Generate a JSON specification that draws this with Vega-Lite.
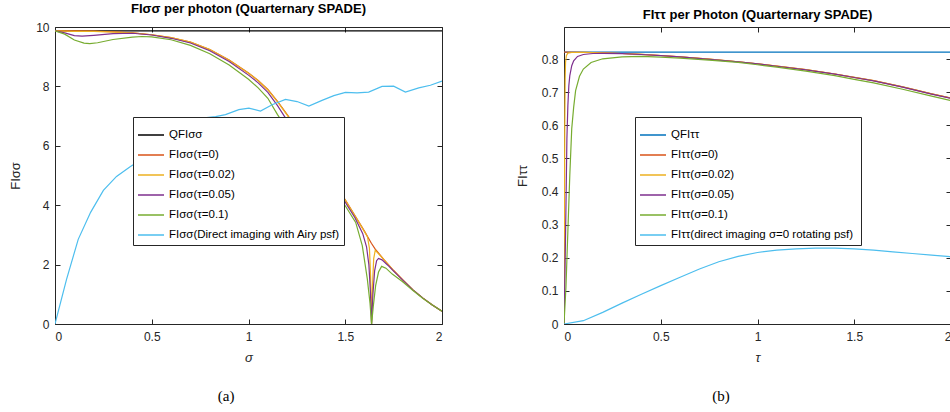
{
  "$schema": "https://vega.github.io/schema/vega-lite/v6.json",
  "background": "white",
  "padding": {"left": 9, "top": 2, "right": 0, "bottom": 0},
  "spacing": 72,
  "config": {
    "view": {"stroke": "#262626", "strokeWidth": 1},
    "font": "Liberation Sans",
    "axis": {"grid": false, "domain": false, "labelFont": "Liberation Sans", "labelFontSize": 12, "labelColor": "#262626", "tickColor": "#262626", "tickSize": -5, "labelPadding": 11, "titleFont": "Liberation Sans", "titleFontSize": 13, "titleFontWeight": "normal", "titleColor": "#262626", "format": "~r"},
    "axisX": {"labelPadding": 12},
    "title": {"font": "Liberation Sans", "fontSize": 13, "fontWeight": "bold", "color": "#000000", "offset": 5},
    "legend": {"orient": "none", "strokeColor": "#262626", "fillColor": "white", "padding": 4, "labelFont": "Liberation Sans", "labelFontSize": 11.5, "labelColor": "#000000", "labelLimit": 300, "symbolType": "stroke", "symbolSize": 680, "symbolStrokeWidth": 1.5, "rowPadding": 0, "title": null}
  },
  "datasets": {
    "left": [
      {"s": "QFIσσ", "x": 0, "y": 9.87}, {"s": "QFIσσ", "x": 2, "y": 9.87},
      {"s": "FIσσ(τ=0)", "x": 0, "y": 9.87}, {"s": "FIσσ(τ=0)", "x": 0.1, "y": 9.87}, {"s": "FIσσ(τ=0)", "x": 0.2, "y": 9.86}, {"s": "FIσσ(τ=0)", "x": 0.3, "y": 9.84}, {"s": "FIσσ(τ=0)", "x": 0.4, "y": 9.8}, {"s": "FIσσ(τ=0)", "x": 0.5, "y": 9.74}, {"s": "FIσσ(τ=0)", "x": 0.6, "y": 9.64}, {"s": "FIσσ(τ=0)", "x": 0.7, "y": 9.49}, {"s": "FIσσ(τ=0)", "x": 0.8, "y": 9.24}, {"s": "FIσσ(τ=0)", "x": 0.9, "y": 8.89}, {"s": "FIσσ(τ=0)", "x": 1.0, "y": 8.45}, {"s": "FIσσ(τ=0)", "x": 1.05, "y": 8.2}, {"s": "FIσσ(τ=0)", "x": 1.1, "y": 7.9}, {"s": "FIσσ(τ=0)", "x": 1.15, "y": 7.5}, {"s": "FIσσ(τ=0)", "x": 1.2, "y": 7.05}, {"s": "FIσσ(τ=0)", "x": 1.25, "y": 6.6}, {"s": "FIσσ(τ=0)", "x": 1.3, "y": 6.12}, {"s": "FIσσ(τ=0)", "x": 1.4, "y": 5.17}, {"s": "FIσσ(τ=0)", "x": 1.5, "y": 4.18}, {"s": "FIσσ(τ=0)", "x": 1.55, "y": 3.65}, {"s": "FIσσ(τ=0)", "x": 1.6, "y": 3.12}, {"s": "FIσσ(τ=0)", "x": 1.635, "y": 2.72}, {"s": "FIσσ(τ=0)", "x": 1.655, "y": 2.52}, {"s": "FIσσ(τ=0)", "x": 1.7, "y": 2.17}, {"s": "FIσσ(τ=0)", "x": 1.75, "y": 1.8}, {"s": "FIσσ(τ=0)", "x": 1.8, "y": 1.47}, {"s": "FIσσ(τ=0)", "x": 1.85, "y": 1.15}, {"s": "FIσσ(τ=0)", "x": 1.9, "y": 0.88}, {"s": "FIσσ(τ=0)", "x": 1.95, "y": 0.64}, {"s": "FIσσ(τ=0)", "x": 2.0, "y": 0.43},
      {"s": "FIσσ(τ=0.02)", "x": 0, "y": 9.87}, {"s": "FIσσ(τ=0.02)", "x": 0.05, "y": 9.86}, {"s": "FIσσ(τ=0.02)", "x": 0.1, "y": 9.85}, {"s": "FIσσ(τ=0.02)", "x": 0.2, "y": 9.85}, {"s": "FIσσ(τ=0.02)", "x": 0.3, "y": 9.83}, {"s": "FIσσ(τ=0.02)", "x": 0.4, "y": 9.8}, {"s": "FIσσ(τ=0.02)", "x": 0.5, "y": 9.74}, {"s": "FIσσ(τ=0.02)", "x": 0.6, "y": 9.64}, {"s": "FIσσ(τ=0.02)", "x": 0.7, "y": 9.49}, {"s": "FIσσ(τ=0.02)", "x": 0.8, "y": 9.24}, {"s": "FIσσ(τ=0.02)", "x": 0.9, "y": 8.88}, {"s": "FIσσ(τ=0.02)", "x": 1.0, "y": 8.44}, {"s": "FIσσ(τ=0.02)", "x": 1.05, "y": 8.19}, {"s": "FIσσ(τ=0.02)", "x": 1.1, "y": 7.88}, {"s": "FIσσ(τ=0.02)", "x": 1.15, "y": 7.48}, {"s": "FIσσ(τ=0.02)", "x": 1.2, "y": 7.03}, {"s": "FIσσ(τ=0.02)", "x": 1.25, "y": 6.58}, {"s": "FIσσ(τ=0.02)", "x": 1.3, "y": 6.1}, {"s": "FIσσ(τ=0.02)", "x": 1.4, "y": 5.15}, {"s": "FIσσ(τ=0.02)", "x": 1.5, "y": 4.17}, {"s": "FIσσ(τ=0.02)", "x": 1.55, "y": 3.64}, {"s": "FIσσ(τ=0.02)", "x": 1.6, "y": 3.1}, {"s": "FIσσ(τ=0.02)", "x": 1.615, "y": 2.93}, {"s": "FIσσ(τ=0.02)", "x": 1.625, "y": 2.55}, {"s": "FIσσ(τ=0.02)", "x": 1.631, "y": 1.6}, {"s": "FIσσ(τ=0.02)", "x": 1.636, "y": 0}, {"s": "FIσσ(τ=0.02)", "x": 1.641, "y": 1.3}, {"s": "FIσσ(τ=0.02)", "x": 1.647, "y": 2.2}, {"s": "FIσσ(τ=0.02)", "x": 1.655, "y": 2.48}, {"s": "FIσσ(τ=0.02)", "x": 1.67, "y": 2.38}, {"s": "FIσσ(τ=0.02)", "x": 1.7, "y": 2.17}, {"s": "FIσσ(τ=0.02)", "x": 1.75, "y": 1.8}, {"s": "FIσσ(τ=0.02)", "x": 1.8, "y": 1.47}, {"s": "FIσσ(τ=0.02)", "x": 1.85, "y": 1.15}, {"s": "FIσσ(τ=0.02)", "x": 1.9, "y": 0.88}, {"s": "FIσσ(τ=0.02)", "x": 1.95, "y": 0.64}, {"s": "FIσσ(τ=0.02)", "x": 2.0, "y": 0.43},
      {"s": "FIσσ(τ=0.05)", "x": 0, "y": 9.87}, {"s": "FIσσ(τ=0.05)", "x": 0.05, "y": 9.8}, {"s": "FIσσ(τ=0.05)", "x": 0.1, "y": 9.71}, {"s": "FIσσ(τ=0.05)", "x": 0.14, "y": 9.69}, {"s": "FIσσ(τ=0.05)", "x": 0.2, "y": 9.72}, {"s": "FIσσ(τ=0.05)", "x": 0.3, "y": 9.78}, {"s": "FIσσ(τ=0.05)", "x": 0.4, "y": 9.79}, {"s": "FIσσ(τ=0.05)", "x": 0.5, "y": 9.73}, {"s": "FIσσ(τ=0.05)", "x": 0.6, "y": 9.62}, {"s": "FIσσ(τ=0.05)", "x": 0.7, "y": 9.46}, {"s": "FIσσ(τ=0.05)", "x": 0.8, "y": 9.2}, {"s": "FIσσ(τ=0.05)", "x": 0.9, "y": 8.84}, {"s": "FIσσ(τ=0.05)", "x": 1.0, "y": 8.38}, {"s": "FIσσ(τ=0.05)", "x": 1.05, "y": 8.12}, {"s": "FIσσ(τ=0.05)", "x": 1.1, "y": 7.8}, {"s": "FIσσ(τ=0.05)", "x": 1.15, "y": 7.35}, {"s": "FIσσ(τ=0.05)", "x": 1.2, "y": 6.85}, {"s": "FIσσ(τ=0.05)", "x": 1.25, "y": 6.4}, {"s": "FIσσ(τ=0.05)", "x": 1.3, "y": 5.95}, {"s": "FIσσ(τ=0.05)", "x": 1.4, "y": 5.02}, {"s": "FIσσ(τ=0.05)", "x": 1.5, "y": 4.1}, {"s": "FIσσ(τ=0.05)", "x": 1.55, "y": 3.58}, {"s": "FIσσ(τ=0.05)", "x": 1.59, "y": 3.05}, {"s": "FIσσ(τ=0.05)", "x": 1.61, "y": 2.6}, {"s": "FIσσ(τ=0.05)", "x": 1.622, "y": 2.0}, {"s": "FIσσ(τ=0.05)", "x": 1.63, "y": 1.1}, {"s": "FIσσ(τ=0.05)", "x": 1.636, "y": 0}, {"s": "FIσσ(τ=0.05)", "x": 1.643, "y": 1.0}, {"s": "FIσσ(τ=0.05)", "x": 1.652, "y": 1.8}, {"s": "FIσσ(τ=0.05)", "x": 1.662, "y": 2.13}, {"s": "FIσσ(τ=0.05)", "x": 1.672, "y": 2.21}, {"s": "FIσσ(τ=0.05)", "x": 1.69, "y": 2.16}, {"s": "FIσσ(τ=0.05)", "x": 1.72, "y": 1.98}, {"s": "FIσσ(τ=0.05)", "x": 1.75, "y": 1.78}, {"s": "FIσσ(τ=0.05)", "x": 1.8, "y": 1.46}, {"s": "FIσσ(τ=0.05)", "x": 1.85, "y": 1.15}, {"s": "FIσσ(τ=0.05)", "x": 1.9, "y": 0.88}, {"s": "FIσσ(τ=0.05)", "x": 1.95, "y": 0.64}, {"s": "FIσσ(τ=0.05)", "x": 2.0, "y": 0.43},
      {"s": "FIσσ(τ=0.1)", "x": 0, "y": 9.87}, {"s": "FIσσ(τ=0.1)", "x": 0.05, "y": 9.76}, {"s": "FIσσ(τ=0.1)", "x": 0.1, "y": 9.56}, {"s": "FIσσ(τ=0.1)", "x": 0.15, "y": 9.46}, {"s": "FIσσ(τ=0.1)", "x": 0.18, "y": 9.44}, {"s": "FIσσ(τ=0.1)", "x": 0.22, "y": 9.47}, {"s": "FIσσ(τ=0.1)", "x": 0.3, "y": 9.58}, {"s": "FIσσ(τ=0.1)", "x": 0.4, "y": 9.66}, {"s": "FIσσ(τ=0.1)", "x": 0.45, "y": 9.68}, {"s": "FIσσ(τ=0.1)", "x": 0.5, "y": 9.67}, {"s": "FIσσ(τ=0.1)", "x": 0.6, "y": 9.57}, {"s": "FIσσ(τ=0.1)", "x": 0.7, "y": 9.38}, {"s": "FIσσ(τ=0.1)", "x": 0.8, "y": 9.1}, {"s": "FIσσ(τ=0.1)", "x": 0.9, "y": 8.72}, {"s": "FIσσ(τ=0.1)", "x": 1.0, "y": 8.24}, {"s": "FIσσ(τ=0.1)", "x": 1.05, "y": 7.95}, {"s": "FIσσ(τ=0.1)", "x": 1.1, "y": 7.6}, {"s": "FIσσ(τ=0.1)", "x": 1.15, "y": 7.05}, {"s": "FIσσ(τ=0.1)", "x": 1.2, "y": 6.55}, {"s": "FIσσ(τ=0.1)", "x": 1.25, "y": 6.1}, {"s": "FIσσ(τ=0.1)", "x": 1.3, "y": 5.68}, {"s": "FIσσ(τ=0.1)", "x": 1.4, "y": 4.82}, {"s": "FIσσ(τ=0.1)", "x": 1.5, "y": 3.98}, {"s": "FIσσ(τ=0.1)", "x": 1.554, "y": 3.42}, {"s": "FIσσ(τ=0.1)", "x": 1.588, "y": 2.64}, {"s": "FIσσ(τ=0.1)", "x": 1.614, "y": 1.52}, {"s": "FIσσ(τ=0.1)", "x": 1.628, "y": 0.7}, {"s": "FIσσ(τ=0.1)", "x": 1.636, "y": 0}, {"s": "FIσσ(τ=0.1)", "x": 1.645, "y": 0.6}, {"s": "FIσσ(τ=0.1)", "x": 1.657, "y": 1.29}, {"s": "FIσσ(τ=0.1)", "x": 1.672, "y": 1.75}, {"s": "FIσσ(τ=0.1)", "x": 1.688, "y": 1.94}, {"s": "FIσσ(τ=0.1)", "x": 1.71, "y": 1.88}, {"s": "FIσσ(τ=0.1)", "x": 1.743, "y": 1.68}, {"s": "FIσσ(τ=0.1)", "x": 1.795, "y": 1.43}, {"s": "FIσσ(τ=0.1)", "x": 1.85, "y": 1.13}, {"s": "FIσσ(τ=0.1)", "x": 1.9, "y": 0.87}, {"s": "FIσσ(τ=0.1)", "x": 1.95, "y": 0.64}, {"s": "FIσσ(τ=0.1)", "x": 2.0, "y": 0.43},
      {"s": "FIσσ(Direct imaging with Airy psf)", "x": 0, "y": 0}, {"s": "FIσσ(Direct imaging with Airy psf)", "x": 0.06, "y": 1.51}, {"s": "FIσσ(Direct imaging with Airy psf)", "x": 0.12, "y": 2.85}, {"s": "FIσσ(Direct imaging with Airy psf)", "x": 0.184, "y": 3.76}, {"s": "FIσσ(Direct imaging with Airy psf)", "x": 0.25, "y": 4.5}, {"s": "FIσσ(Direct imaging with Airy psf)", "x": 0.318, "y": 4.97}, {"s": "FIσσ(Direct imaging with Airy psf)", "x": 0.39, "y": 5.3}, {"s": "FIσσ(Direct imaging with Airy psf)", "x": 0.45, "y": 5.55}, {"s": "FIσσ(Direct imaging with Airy psf)", "x": 0.51, "y": 5.85}, {"s": "FIσσ(Direct imaging with Airy psf)", "x": 0.57, "y": 6.15}, {"s": "FIσσ(Direct imaging with Airy psf)", "x": 0.63, "y": 6.45}, {"s": "FIσσ(Direct imaging with Airy psf)", "x": 0.69, "y": 6.72}, {"s": "FIσσ(Direct imaging with Airy psf)", "x": 0.76, "y": 6.93}, {"s": "FIσσ(Direct imaging with Airy psf)", "x": 0.83, "y": 6.98}, {"s": "FIσσ(Direct imaging with Airy psf)", "x": 0.881, "y": 7.05}, {"s": "FIσσ(Direct imaging with Airy psf)", "x": 0.95, "y": 7.22}, {"s": "FIσσ(Direct imaging with Airy psf)", "x": 1.002, "y": 7.27}, {"s": "FIσσ(Direct imaging with Airy psf)", "x": 1.062, "y": 7.17}, {"s": "FIσσ(Direct imaging with Airy psf)", "x": 1.122, "y": 7.38}, {"s": "FIσσ(Direct imaging with Airy psf)", "x": 1.191, "y": 7.56}, {"s": "FIσσ(Direct imaging with Airy psf)", "x": 1.251, "y": 7.49}, {"s": "FIσσ(Direct imaging with Airy psf)", "x": 1.312, "y": 7.34}, {"s": "FIσσ(Direct imaging with Airy psf)", "x": 1.38, "y": 7.53}, {"s": "FIσσ(Direct imaging with Airy psf)", "x": 1.441, "y": 7.69}, {"s": "FIσσ(Direct imaging with Airy psf)", "x": 1.501, "y": 7.8}, {"s": "FIσσ(Direct imaging with Airy psf)", "x": 1.561, "y": 7.78}, {"s": "FIσσ(Direct imaging with Airy psf)", "x": 1.621, "y": 7.81}, {"s": "FIσσ(Direct imaging with Airy psf)", "x": 1.69, "y": 8.0}, {"s": "FIσσ(Direct imaging with Airy psf)", "x": 1.75, "y": 8.01}, {"s": "FIσσ(Direct imaging with Airy psf)", "x": 1.811, "y": 7.81}, {"s": "FIσσ(Direct imaging with Airy psf)", "x": 1.88, "y": 7.95}, {"s": "FIσσ(Direct imaging with Airy psf)", "x": 1.94, "y": 8.04}, {"s": "FIσσ(Direct imaging with Airy psf)", "x": 2.0, "y": 8.18}
    ],
    "right": [
      {"s": "QFIττ", "x": 0, "y": 0.8213}, {"s": "QFIττ", "x": 2, "y": 0.8213},
      {"s": "FIττ(σ=0)", "x": 0, "y": 0.8213}, {"s": "FIττ(σ=0)", "x": 0.1, "y": 0.8207}, {"s": "FIττ(σ=0)", "x": 0.2, "y": 0.819}, {"s": "FIττ(σ=0)", "x": 0.3, "y": 0.817}, {"s": "FIττ(σ=0)", "x": 0.4, "y": 0.8145}, {"s": "FIττ(σ=0)", "x": 0.5, "y": 0.811}, {"s": "FIττ(σ=0)", "x": 0.6, "y": 0.807}, {"s": "FIττ(σ=0)", "x": 0.75, "y": 0.8}, {"s": "FIττ(σ=0)", "x": 0.9, "y": 0.792}, {"s": "FIττ(σ=0)", "x": 1.0, "y": 0.786}, {"s": "FIττ(σ=0)", "x": 1.1, "y": 0.779}, {"s": "FIττ(σ=0)", "x": 1.25, "y": 0.768}, {"s": "FIττ(σ=0)", "x": 1.4, "y": 0.755}, {"s": "FIττ(σ=0)", "x": 1.5, "y": 0.745}, {"s": "FIττ(σ=0)", "x": 1.6, "y": 0.735}, {"s": "FIττ(σ=0)", "x": 1.75, "y": 0.716}, {"s": "FIττ(σ=0)", "x": 1.9, "y": 0.695}, {"s": "FIττ(σ=0)", "x": 2.0, "y": 0.682},
      {"s": "FIττ(σ=0.02)", "x": 0, "y": 0}, {"s": "FIττ(σ=0.02)", "x": 0.002, "y": 0.3}, {"s": "FIττ(σ=0.02)", "x": 0.004, "y": 0.6}, {"s": "FIττ(σ=0.02)", "x": 0.006, "y": 0.74}, {"s": "FIττ(σ=0.02)", "x": 0.008, "y": 0.79}, {"s": "FIττ(σ=0.02)", "x": 0.012, "y": 0.81}, {"s": "FIττ(σ=0.02)", "x": 0.02, "y": 0.818}, {"s": "FIττ(σ=0.02)", "x": 0.04, "y": 0.82}, {"s": "FIττ(σ=0.02)", "x": 0.1, "y": 0.8205}, {"s": "FIττ(σ=0.02)", "x": 0.2, "y": 0.819}, {"s": "FIττ(σ=0.02)", "x": 0.3, "y": 0.817}, {"s": "FIττ(σ=0.02)", "x": 0.4, "y": 0.8145}, {"s": "FIττ(σ=0.02)", "x": 0.5, "y": 0.811}, {"s": "FIττ(σ=0.02)", "x": 0.6, "y": 0.807}, {"s": "FIττ(σ=0.02)", "x": 0.75, "y": 0.8}, {"s": "FIττ(σ=0.02)", "x": 0.9, "y": 0.792}, {"s": "FIττ(σ=0.02)", "x": 1.0, "y": 0.786}, {"s": "FIττ(σ=0.02)", "x": 1.1, "y": 0.779}, {"s": "FIττ(σ=0.02)", "x": 1.25, "y": 0.768}, {"s": "FIττ(σ=0.02)", "x": 1.4, "y": 0.755}, {"s": "FIττ(σ=0.02)", "x": 1.5, "y": 0.745}, {"s": "FIττ(σ=0.02)", "x": 1.6, "y": 0.735}, {"s": "FIττ(σ=0.02)", "x": 1.75, "y": 0.716}, {"s": "FIττ(σ=0.02)", "x": 1.9, "y": 0.695}, {"s": "FIττ(σ=0.02)", "x": 2.0, "y": 0.682},
      {"s": "FIττ(σ=0.05)", "x": 0, "y": 0}, {"s": "FIττ(σ=0.05)", "x": 0.005, "y": 0.15}, {"s": "FIττ(σ=0.05)", "x": 0.01, "y": 0.35}, {"s": "FIττ(σ=0.05)", "x": 0.015, "y": 0.56}, {"s": "FIττ(σ=0.05)", "x": 0.02, "y": 0.66}, {"s": "FIττ(σ=0.05)", "x": 0.025, "y": 0.72}, {"s": "FIττ(σ=0.05)", "x": 0.03, "y": 0.75}, {"s": "FIττ(σ=0.05)", "x": 0.04, "y": 0.78}, {"s": "FIττ(σ=0.05)", "x": 0.05, "y": 0.795}, {"s": "FIττ(σ=0.05)", "x": 0.07, "y": 0.808}, {"s": "FIττ(σ=0.05)", "x": 0.1, "y": 0.814}, {"s": "FIττ(σ=0.05)", "x": 0.15, "y": 0.817}, {"s": "FIττ(σ=0.05)", "x": 0.2, "y": 0.8175}, {"s": "FIττ(σ=0.05)", "x": 0.3, "y": 0.8165}, {"s": "FIττ(σ=0.05)", "x": 0.4, "y": 0.814}, {"s": "FIττ(σ=0.05)", "x": 0.5, "y": 0.8105}, {"s": "FIττ(σ=0.05)", "x": 0.6, "y": 0.8065}, {"s": "FIττ(σ=0.05)", "x": 0.75, "y": 0.7995}, {"s": "FIττ(σ=0.05)", "x": 0.9, "y": 0.7915}, {"s": "FIττ(σ=0.05)", "x": 1.0, "y": 0.7855}, {"s": "FIττ(σ=0.05)", "x": 1.1, "y": 0.7785}, {"s": "FIττ(σ=0.05)", "x": 1.25, "y": 0.7675}, {"s": "FIττ(σ=0.05)", "x": 1.4, "y": 0.7545}, {"s": "FIττ(σ=0.05)", "x": 1.5, "y": 0.7445}, {"s": "FIττ(σ=0.05)", "x": 1.6, "y": 0.7345}, {"s": "FIττ(σ=0.05)", "x": 1.75, "y": 0.7155}, {"s": "FIττ(σ=0.05)", "x": 1.9, "y": 0.6945}, {"s": "FIττ(σ=0.05)", "x": 2.0, "y": 0.6815},
      {"s": "FIττ(σ=0.1)", "x": 0, "y": 0}, {"s": "FIττ(σ=0.1)", "x": 0.01, "y": 0.11}, {"s": "FIττ(σ=0.1)", "x": 0.02, "y": 0.28}, {"s": "FIττ(σ=0.1)", "x": 0.03, "y": 0.45}, {"s": "FIττ(σ=0.1)", "x": 0.04, "y": 0.59}, {"s": "FIττ(σ=0.1)", "x": 0.05, "y": 0.655}, {"s": "FIττ(σ=0.1)", "x": 0.06, "y": 0.705}, {"s": "FIττ(σ=0.1)", "x": 0.08, "y": 0.748}, {"s": "FIττ(σ=0.1)", "x": 0.1, "y": 0.77}, {"s": "FIττ(σ=0.1)", "x": 0.14, "y": 0.79}, {"s": "FIττ(σ=0.1)", "x": 0.2, "y": 0.801}, {"s": "FIττ(σ=0.1)", "x": 0.3, "y": 0.807}, {"s": "FIττ(σ=0.1)", "x": 0.4, "y": 0.808}, {"s": "FIττ(σ=0.1)", "x": 0.5, "y": 0.806}, {"s": "FIττ(σ=0.1)", "x": 0.6, "y": 0.803}, {"s": "FIττ(σ=0.1)", "x": 0.75, "y": 0.797}, {"s": "FIττ(σ=0.1)", "x": 0.9, "y": 0.79}, {"s": "FIττ(σ=0.1)", "x": 1.0, "y": 0.783}, {"s": "FIττ(σ=0.1)", "x": 1.1, "y": 0.776}, {"s": "FIττ(σ=0.1)", "x": 1.25, "y": 0.764}, {"s": "FIττ(σ=0.1)", "x": 1.4, "y": 0.75}, {"s": "FIττ(σ=0.1)", "x": 1.5, "y": 0.739}, {"s": "FIττ(σ=0.1)", "x": 1.6, "y": 0.728}, {"s": "FIττ(σ=0.1)", "x": 1.75, "y": 0.709}, {"s": "FIττ(σ=0.1)", "x": 1.9, "y": 0.688}, {"s": "FIττ(σ=0.1)", "x": 2.0, "y": 0.675},
      {"s": "FIττ(direct imaging  σ=0 rotating psf)", "x": 0, "y": 0}, {"s": "FIττ(direct imaging  σ=0 rotating psf)", "x": 0.1, "y": 0.01}, {"s": "FIττ(direct imaging  σ=0 rotating psf)", "x": 0.2, "y": 0.035}, {"s": "FIττ(direct imaging  σ=0 rotating psf)", "x": 0.3, "y": 0.063}, {"s": "FIττ(direct imaging  σ=0 rotating psf)", "x": 0.4, "y": 0.09}, {"s": "FIττ(direct imaging  σ=0 rotating psf)", "x": 0.5, "y": 0.116}, {"s": "FIττ(direct imaging  σ=0 rotating psf)", "x": 0.6, "y": 0.141}, {"s": "FIττ(direct imaging  σ=0 rotating psf)", "x": 0.7, "y": 0.166}, {"s": "FIττ(direct imaging  σ=0 rotating psf)", "x": 0.8, "y": 0.188}, {"s": "FIττ(direct imaging  σ=0 rotating psf)", "x": 0.9, "y": 0.204}, {"s": "FIττ(direct imaging  σ=0 rotating psf)", "x": 1.0, "y": 0.216}, {"s": "FIττ(direct imaging  σ=0 rotating psf)", "x": 1.1, "y": 0.223}, {"s": "FIττ(direct imaging  σ=0 rotating psf)", "x": 1.2, "y": 0.227}, {"s": "FIττ(direct imaging  σ=0 rotating psf)", "x": 1.3, "y": 0.229}, {"s": "FIττ(direct imaging  σ=0 rotating psf)", "x": 1.4, "y": 0.229}, {"s": "FIττ(direct imaging  σ=0 rotating psf)", "x": 1.5, "y": 0.227}, {"s": "FIττ(direct imaging  σ=0 rotating psf)", "x": 1.6, "y": 0.223}, {"s": "FIττ(direct imaging  σ=0 rotating psf)", "x": 1.7, "y": 0.218}, {"s": "FIττ(direct imaging  σ=0 rotating psf)", "x": 1.8, "y": 0.213}, {"s": "FIττ(direct imaging  σ=0 rotating psf)", "x": 1.9, "y": 0.208}, {"s": "FIττ(direct imaging  σ=0 rotating psf)", "x": 2.0, "y": 0.203}
    ]
  },
  "hconcat": [
    {
      "title": {"text": "(a)", "orient": "bottom", "anchor": "middle", "font": "Liberation Serif", "fontSize": 15, "fontWeight": "normal", "color": "#000000", "offset": 24},
      "vconcat": [
        {
          "width": 387,
          "height": 297,
          "title": {"text": "FIσσ per photon (Quarternary SPADE)", "anchor": "middle"},
          "data": {"name": "left"},
          "resolve": {"axis": {"x": "independent", "y": "independent"}},
          "layer": [
            {
              "mark": {"type": "line", "strokeWidth": 1.2, "clip": true},
              "encoding": {
                "x": {"field": "x", "type": "quantitative", "scale": {"domain": [0, 2], "nice": false, "zero": false}, "axis": {"orient": "bottom", "title": "σ", "titleFontStyle": "italic", "values": [0, 0.5, 1, 1.5, 2], "titlePadding": 9}},
                "y": {"field": "y", "type": "quantitative", "scale": {"domain": [0, 10], "nice": false}, "axis": {"orient": "left", "title": "FIσσ", "values": [0, 2, 4, 6, 8, 10], "titlePadding": 13}},
                "color": {"field": "s", "type": "nominal", "sort": null,
                  "scale": {"domain": ["QFIσσ", "FIσσ(τ=0)", "FIσσ(τ=0.02)", "FIσσ(τ=0.05)", "FIσσ(τ=0.1)", "FIσσ(Direct imaging with Airy psf)"], "range": ["#000000", "#D95319", "#EDB120", "#7E2F8E", "#77AC30", "#4DBEEE"]},
                  "legend": {"legendX": 78, "legendY": 90}}
              }
            },
            {
              "mark": {"type": "line", "opacity": 0},
              "encoding": {
                "x": {"field": "x", "type": "quantitative", "scale": {"domain": [0, 2], "nice": false, "zero": false}, "axis": {"orient": "top", "labels": false, "title": null, "values": [0, 0.5, 1, 1.5, 2]}},
                "y": {"field": "y", "type": "quantitative", "scale": {"domain": [0, 10], "nice": false}, "axis": {"orient": "right", "labels": false, "title": null, "values": [0, 2, 4, 6, 8, 10]}}
              }
            }
          ]
        }
      ]
    },
    {
      "title": {"text": "(b)", "orient": "bottom", "anchor": "middle", "font": "Liberation Serif", "fontSize": 15, "fontWeight": "normal", "color": "#000000", "offset": 24, "dx": -13},
      "vconcat": [
        {
          "width": 387,
          "height": 297,
          "title": {"text": "FIττ per Photon (Quarternary SPADE)", "anchor": "middle"},
          "data": {"name": "right"},
          "resolve": {"axis": {"x": "independent", "y": "independent"}},
          "layer": [
            {
              "mark": {"type": "line", "strokeWidth": 1.2, "clip": true},
              "encoding": {
                "x": {"field": "x", "type": "quantitative", "scale": {"domain": [0, 2], "nice": false, "zero": false}, "axis": {"orient": "bottom", "title": "τ", "titleFontStyle": "italic", "values": [0, 0.5, 1, 1.5, 2], "titlePadding": 9}},
                "y": {"field": "y", "type": "quantitative", "scale": {"domain": [0, 0.897], "nice": false}, "axis": {"orient": "left", "title": "FIττ", "values": [0, 0.1, 0.2, 0.3, 0.4, 0.5, 0.6, 0.7, 0.8], "titlePadding": 12}},
                "color": {"field": "s", "type": "nominal", "sort": null,
                  "scale": {"domain": ["QFIττ", "FIττ(σ=0)", "FIττ(σ=0.02)", "FIττ(σ=0.05)", "FIττ(σ=0.1)", "FIττ(direct imaging  σ=0 rotating psf)"], "range": ["#0072BD", "#D95319", "#EDB120", "#7E2F8E", "#77AC30", "#4DBEEE"]},
                  "legend": {"legendX": 71, "legendY": 90}}
              }
            },
            {
              "mark": {"type": "line", "opacity": 0},
              "encoding": {
                "x": {"field": "x", "type": "quantitative", "scale": {"domain": [0, 2], "nice": false, "zero": false}, "axis": {"orient": "top", "labels": false, "title": null, "values": [0, 0.5, 1, 1.5, 2]}},
                "y": {"field": "y", "type": "quantitative", "scale": {"domain": [0, 0.897], "nice": false}, "axis": {"orient": "right", "labels": false, "title": null, "values": [0, 0.1, 0.2, 0.3, 0.4, 0.5, 0.6, 0.7, 0.8]}}
              }
            }
          ]
        }
      ],
      "resolve": {"scale": {"color": "independent"}}
    }
  ],
  "resolve": {"scale": {"color": "independent"}}
}
